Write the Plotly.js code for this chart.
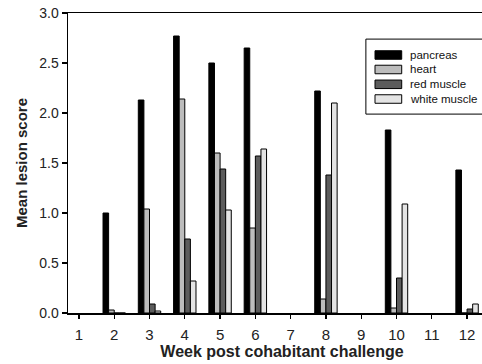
<!DOCTYPE html>
<html>
<head>
<meta charset="utf-8">
<script src="https://cdn.plot.ly/plotly-3.0.1.min.js"></script>
<style>
html, body { margin: 0; padding: 0; overflow: hidden; background: #fff; width: 482px; height: 364px; }
#chart { width: 496px; height: 364px; }
</style>
</head>
<body>
<div id="chart"></div>
<script>
const weeks = [1, 2, 3, 4, 5, 6, 7, 8, 9, 10, 11, 12];
const seriesNames = ["pancreas", "heart", "red muscle", "white muscle"];
const pancreas    = [null, 1.00, 2.13, 2.77, 2.50, 2.65, null, 2.22, null, 1.83, null, 1.43];
const heart       = [null, 0.03, 1.04, 2.14, 1.60, 0.85, null, 0.14, null, 0.05, null, 0.00];
const redMuscle   = [null, 0.00, 0.09, 0.74, 1.44, 1.57, null, 1.38, null, 0.35, null, 0.04];
const whiteMuscle = [null, 0.00, 0.02, 0.32, 1.03, 1.64, null, 2.10, null, 1.09, null, 0.09];
const yTicks = [0, 0.5, 1.0, 1.5, 2.0, 2.5, 3.0];
const yTickText = ["0.0", "0.5", "1.0", "1.5", "2.0", "2.5", "3.0"];

const colors = ["#000000", "#bcbcbc", "#5c5c5c", "#e4e4e4"];
const values = [pancreas, heart, redMuscle, whiteMuscle];

const traces = values.map((v, i) => ({
  type: "bar",
  x: weeks,
  y: v,
  name: seriesNames[i],
  marker: { color: colors[i], line: { color: "#000", width: 1 } },
  showlegend: false,
  hoverinfo: "x+y+name"
}));

// custom legend (wide swatches like the original)
const shapes = [{
  type: "rect", xref: "paper", yref: "paper",
  x0: 0.696, x1: 1.06, y0: 0.663, y1: 0.913,
  line: { color: "#000", width: 1 }, fillcolor: "#fff", layer: "above"
}];
const annotations = [];
const rowY = [0.86, 0.8117, 0.7623, 0.7133];
seriesNames.forEach((n, i) => {
  shapes.push({
    type: "rect", xref: "paper", yref: "paper",
    x0: 0.7173, x1: 0.7797, y0: rowY[i] - 0.0142, y1: rowY[i] + 0.0142,
    line: { color: "#000", width: 1 }, fillcolor: colors[i], layer: "above"
  });
  annotations.push({
    xref: "paper", yref: "paper", x: 0.7937, y: rowY[i],
    xanchor: "left", yanchor: "middle", showarrow: false,
    text: n, font: { family: "Liberation Sans, Arial, sans-serif", size: 11.5, color: "#111" }
  });
});

const layout = {
  width: 496, height: 364,
  margin: { l: 68, r: 0, t: 13, b: 51 },
  paper_bgcolor: "#fff", plot_bgcolor: "#fff",
  barmode: "group", bargap: 0.365, bargroupgap: 0,
  font: { family: "Liberation Sans, Arial, sans-serif", color: "#222" },
  xaxis: {
    range: [0.69, 12.82],
    tickvals: weeks, ticktext: weeks.map(String),
    ticks: "outside", ticklen: 4, tickwidth: 1.2, tickcolor: "#000",
    ticklabelstandoff: 3,
    showline: true, linecolor: "#000", linewidth: 1.5, mirror: true,
    showgrid: false, zeroline: false,
    tickfont: { size: 15, color: "#222" },
    title: { text: "Week post cohabitant challenge", font: { size: 16, weight: "bold", color: "#222" }, standoff: 4 }
  },
  yaxis: {
    range: [0, 3.0],
    tickvals: yTicks, ticktext: yTickText,
    ticks: "outside", ticklen: 5, tickwidth: 1.2, tickcolor: "#000",
    showline: true, linecolor: "#000", linewidth: 1.5, mirror: true,
    showgrid: false, zeroline: false,
    tickfont: { size: 14, color: "#222" },
    title: { text: "Mean lesion score", font: { size: 15, weight: "bold", color: "#222" }, standoff: 8 }
  },
  shapes: shapes,
  annotations: annotations,
  showlegend: false
};

Plotly.newPlot("chart", traces, layout, { displayModeBar: false, staticPlot: true });
</script>
</body>
</html>
